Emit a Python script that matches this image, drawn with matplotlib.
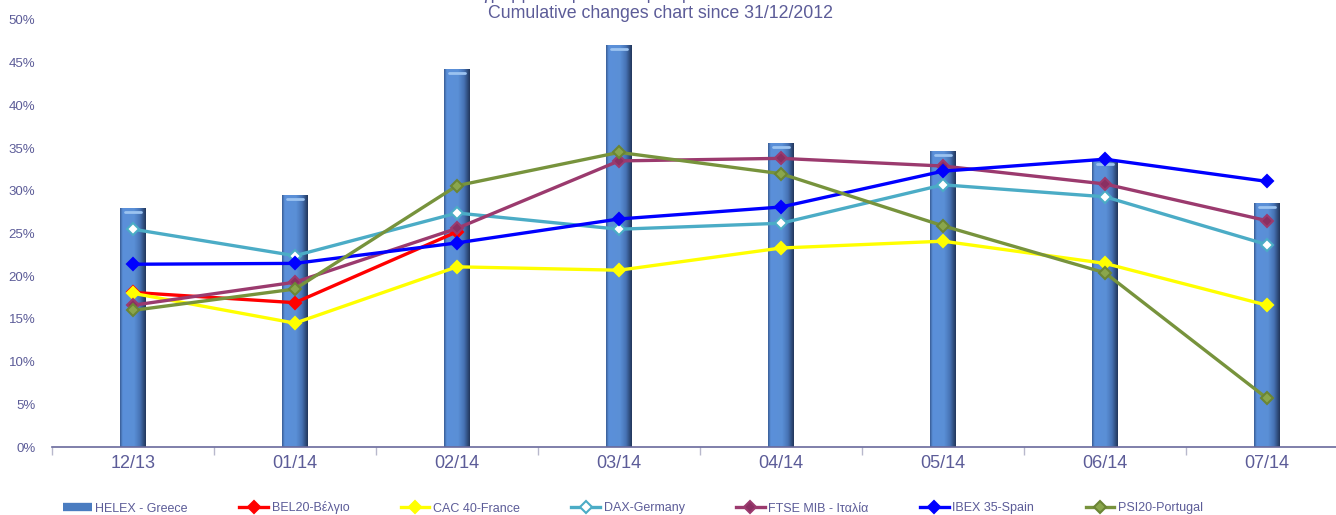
import numpy as np
import matplotlib
matplotlib.use("Agg")
import matplotlib.pyplot as plt
from matplotlib.colors import LinearSegmentedColormap
from matplotlib.lines import Line2D

plt.rcParams['font.family'] = ['Liberation Sans', 'DejaVu Sans']

categories = ["12/13", "01/14", "02/14", "03/14", "04/14", "05/14", "06/14", "07/14"]
helex = [28.0, 29.5, 44.3, 47.1, 35.6, 34.7, 33.6, 28.6]
bel20 = [18.1, 16.9, 25.2, np.nan, np.nan, np.nan, np.nan, np.nan]
cac40 = [18.0, 14.5, 21.1, 20.7, 23.3, 24.1, 21.5, 16.6]
dax = [25.5, 22.4, 27.4, 25.5, 26.2, 30.7, 29.3, 23.7]
ftse = [16.6, 19.3, 25.6, 33.5, 33.8, 32.9, 30.8, 26.5]
ibex = [21.4, 21.5, 23.9, 26.7, 28.1, 32.3, 33.7, 31.1]
psi20 = [16.0, 18.5, 30.6, 34.5, 32.0, 25.9, 20.4, 5.7]

yticks = [0, 5, 10, 15, 20, 25, 30, 35, 40, 45, 50]
title = "Cumulative changes chart since 31/12/2012"
title_gr = "Διάγραμμα σωρευτικών μεταβολών από 31/12/2012"

txt = '#5c5c98'
W, H = 1336, 515
fig = plt.figure(figsize=(W / 100, H / 100), dpi=100)
ax = fig.add_axes([52 / W, (H - 447) / H, 1296 / W, 427 / H])

x = np.arange(len(categories))
bw = 0.16
bars = ax.bar(x, helex, width=bw, color='#5a8fd6', edgecolor='none', zorder=2)

cyl = LinearSegmentedColormap.from_list('cyl', [
    (0.0, '#3a5e96'), (0.1, '#5b90da'), (0.55, '#5a8fd6'),
    (0.78, '#4672b4'), (1.0, '#22375c')])
grad = np.linspace(0, 1, 64).reshape(1, -1)
for b in bars:
    x0, y0 = b.get_x(), b.get_y()
    w, h = b.get_width(), b.get_height()
    im = ax.imshow(grad, cmap=cyl, aspect='auto',
                   extent=[x0, x0 + w, y0, y0 + h], zorder=2.1,
                   interpolation='bilinear')
    im.set_clip_path(b)
    ax.plot([x0 + w * 0.2, x0 + w * 0.8], [y0 + h - 0.45, y0 + h - 0.45],
            color='#9cc3f0', lw=2, solid_capstyle='round', zorder=2.2)

series = [
    ("BEL20-Βέλγιο", bel20, '#ff0000', '#ff0000', '#ff0000'),
    ("CAC 40-France", cac40, '#ffff00', '#ffff00', '#ffff00'),
    ("DAX-Germany", dax, '#4bacc6', 'white', '#4bacc6'),
    ("FTSE MIB - Ιταλία", ftse, '#9b3a6e', '#8a2f62', '#9b3a6e'),
    ("IBEX 35-Spain", ibex, '#0000ff', '#0000ff', '#0000ff'),
    ("PSI20-Portugal", psi20, '#77933c', '#8aa64c', '#6b8534'),
]
handles = [Line2D([], [], color='#4a7cc0', lw=6, solid_capstyle='butt')]
labels = ["HELEX - Greece"]
for name, vals, c, mfc, mec in series:
    ln, = ax.plot(x, vals, color=c, lw=2.4, marker='D', markersize=6.5,
                  markerfacecolor=mfc, markeredgecolor=mec, markeredgewidth=1.5,
                  zorder=3)
    handles.append(ln)
    labels.append(name)

ax.set_xlim(-0.5, len(categories) - 0.5)
ax.set_ylim(0, 50)
ax.set_yticks(yticks)
ax.set_yticklabels([f"{v}%" for v in yticks])
ax.set_xticks(x)
ax.set_xticklabels(categories)
ax.set_xticks(np.arange(len(categories) + 1) - 0.5, minor=True)
ax.tick_params(axis='y', length=0, pad=12, labelsize=9.5, labelcolor=txt)
ax.tick_params(axis='x', which='major', length=0, pad=6, labelsize=13, labelcolor=txt)
ax.tick_params(axis='x', which='minor', length=6, color='#b8b8cc', width=1)
for s in ['top', 'right', 'left']:
    ax.spines[s].set_visible(False)
ax.spines['bottom'].set_color('#6a6a9c')
ax.spines['bottom'].set_linewidth(1.2)
ax.set_facecolor('none')

fig.text(660 / W, 1 - 13 / H, title, ha='center', va='center', fontsize=12.8, color=txt)
fig.text(660 / W, 1 + 1 / H, title_gr, ha='center', va='baseline', fontsize=12.8, color=txt)

leg = fig.legend(handles, labels, loc='center', bbox_to_anchor=(633 / W, 1 - 508 / H),
                 ncol=7, frameon=False, fontsize=9, handlelength=2.3,
                 handletextpad=0.3, columnspacing=4.1, labelcolor=txt)

fig.savefig("out.png", dpi=100)
